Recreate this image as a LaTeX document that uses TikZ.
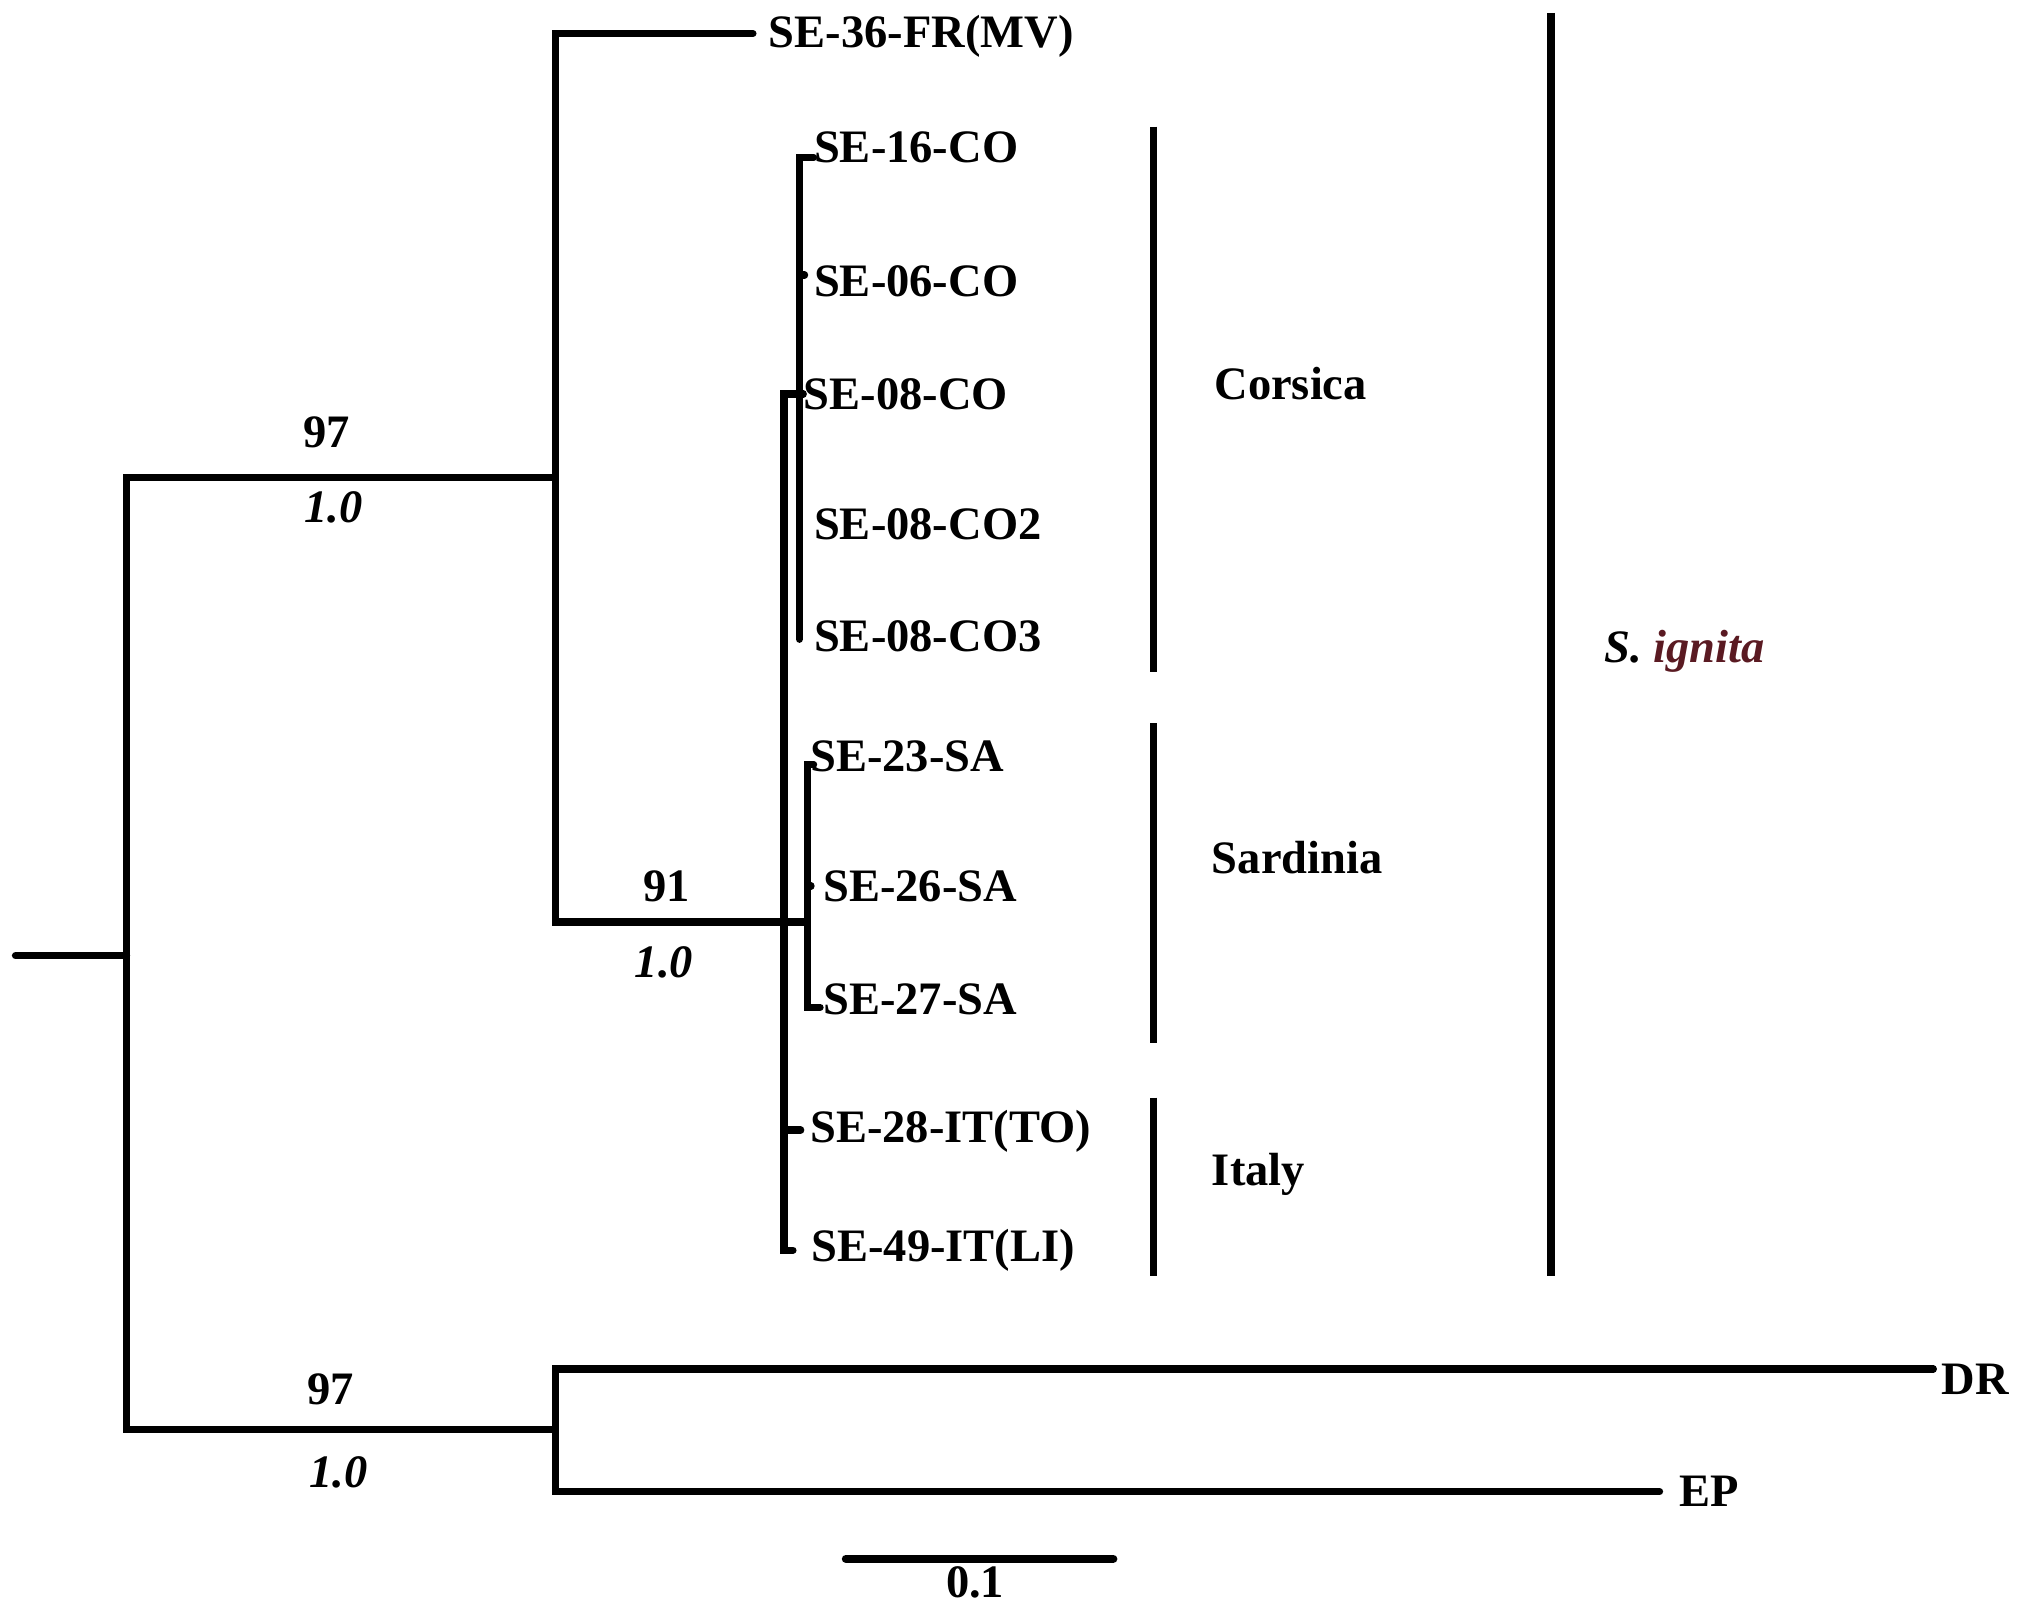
\documentclass[tikz,border=0pt]{standalone}
\usepackage{fontspec}
\setmainfont{Liberation Serif}
\definecolor{ignitared}{HTML}{5A1A22}
\begin{document}
\begin{tikzpicture}[x=0.5pt,y=-0.5pt,
  branch/.style={line width=2.8pt,line cap=round,line join=miter},
  cladebar/.style={line width=2.8pt},
  leaflabel/.style={anchor=west,inner sep=0pt,font=\fontsize{18}{20}\selectfont\bfseries},
  grouplabel/.style={anchor=west,inner sep=0pt,font=\fontsize{18}{20}\selectfont\bfseries},
  support/.style={inner sep=0pt,font=\fontsize{18}{20}\selectfont\bfseries},
  posterior/.style={inner sep=0pt,font=\fontsize{18}{20}\selectfont\bfseries\itshape}]
\useasboundingbox (0,0) rectangle (1568,1245);
% internal nodes
\coordinate (start) at (12,740);
\coordinate (root) at (98,740);
\coordinate (nA) at (430,370);
\coordinate (nB) at (430,1107);
\coordinate (n91) at (607,714);
\coordinate (nC) at (619,305);
\coordinate (nS) at (625,714);
% tips
\coordinate (t36) at (583,26);
\coordinate (t16) at (630,122);
\coordinate (t06) at (623,213);
\coordinate (t08) at (622,305);
\coordinate (t082) at (619,406);
\coordinate (t083) at (619,495);
\coordinate (t23) at (630,592);
\coordinate (t26) at (628,686);
\coordinate (t27) at (635,780);
\coordinate (t28) at (620,875);
\coordinate (t49) at (614,968);
\coordinate (tDR) at (1497,1060);
\coordinate (tEP) at (1285,1155);
% branches
\draw[branch] (start) -- (root);
\draw[branch] (root) |- (nA);
\draw[branch] (root) |- (nB);
\draw[branch] (nA) |- (t36);
\draw[branch] (nA) |- (n91);
\draw[branch] (n91) |- (nC);
\draw[branch] (n91) -- (nS);
\draw[branch] (n91) |- (t28);
\draw[branch] (n91) |- (t49);
\draw[branch] (nC) |- (t16);
\draw[branch] (nC) |- (t06);
\draw[branch] (nC) -- (t08);
\draw[branch] (nC) |- (t083);
\draw[branch] (nS) |- (t23);
\draw[branch] (nS) |- (t26);
\draw[branch] (nS) |- (t27);
\draw[branch] (nB) |- (tDR);
\draw[branch] (nB) |- (tEP);
% support values
\node[support] (bs1) at (253,335) {97};
\node[posterior] (pp1) at (258,393) {1.0};
\node[support] (bs2) at (516,686) {91};
\node[posterior] (pp2) at (514,745) {1.0};
\node[support] (bs3) at (256,1076) {97};
\node[posterior] (pp3) at (262,1140) {1.0};
% leaf labels
\node[leaflabel] (l36) at (595,28) {SE-36-FR(MV)};
\node[leaflabel] (l16) at (630,114) {SE-16-CO};
\node[leaflabel] (l06) at (630,218) {SE-06-CO};
\node[leaflabel] (l08) at (622,305) {SE-08-CO};
\node[leaflabel] (l082) at (630,406) {SE-08-CO2};
\node[leaflabel] (l083) at (630,493) {SE-08-CO3};
\node[leaflabel] (l23) at (627,586) {SE-23-SA};
\node[leaflabel] (l26) at (637,686) {SE-26-SA};
\node[leaflabel] (l27) at (637,774) {SE-27-SA};
\node[leaflabel] (l28) at (627,876) {SE-28-IT(TO)};
\node[leaflabel] (l49) at (628,968) {SE-49-IT(LI)};
\node[leaflabel] (lDR) at (1503,1068) {DR};
\node[leaflabel] (lEP) at (1300,1155) {EP};
% clade bars
\coordinate (cb1) at (893,98); \coordinate (cb2) at (893,520);
\coordinate (sb1) at (893,560); \coordinate (sb2) at (893,808);
\coordinate (ib1) at (893,850); \coordinate (ib2) at (893,988);
\coordinate (gb1) at (1201,10); \coordinate (gb2) at (1201,988);
\draw[cladebar] (cb1) -- (cb2);
\draw[cladebar] (sb1) -- (sb2);
\draw[cladebar] (ib1) -- (ib2);
\draw[cladebar] (gb1) -- (gb2);
\node[grouplabel] (gC) at (940,297) {Corsica};
\node[grouplabel] (gS) at (938,664) {Sardinia};
\node[grouplabel] (gI) at (938,909) {Italy};
\node[grouplabel] (gG) at (1242,504) {\itshape S. \textcolor{ignitared}{ignita}};
% scale bar
\coordinate (sc1) at (655,1207);
\coordinate (sc2) at (862,1207);
\draw[branch,line width=3.2pt] (sc1) -- (sc2);
\node[support,anchor=north] (scl) at (755,1213) {0.1};
\end{tikzpicture}
\end{document}
